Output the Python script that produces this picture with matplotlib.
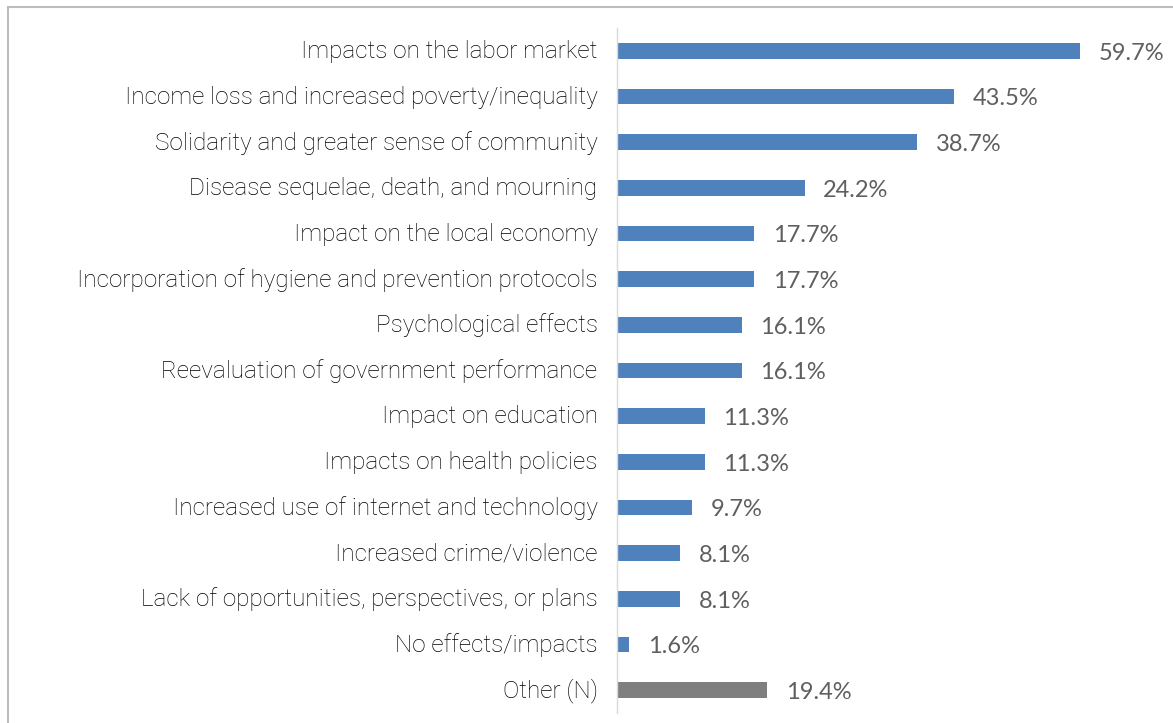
import matplotlib.pyplot as plt
from matplotlib.patches import Rectangle
from matplotlib.transforms import ScaledTranslation

categories = [
    "Impacts on the labor market",
    "Income loss and increased poverty/inequality",
    "Solidarity and greater sense of community",
    "Disease sequelae, death, and mourning",
    "Impact on the local economy",
    "Incorporation of hygiene and prevention protocols",
    "Psychological effects",
    "Reevaluation of government performance",
    "Impact on education",
    "Impacts on health policies",
    "Increased use of internet and technology",
    "Increased crime/violence",
    "Lack of opportunities, perspectives, or plans",
    "No effects/impacts",
    "Other (N)",
]
values = [59.7, 43.5, 38.7, 24.2, 17.7, 17.7, 16.1, 16.1, 11.3, 11.3, 9.7, 8.1, 8.1, 1.6, 19.4]
colors = ["#4F81BD"] * 14 + ["#7F7F7F"]

W, H = 1173, 723
fig = plt.figure(figsize=(W / 100, H / 100), dpi=100)
ax = fig.add_axes([617 / W, 1 - 713 / H, (1160 - 617) / W, (713 - 28) / H])

y = list(range(len(categories)))
ax.barh(y, values, height=0.35, color=colors)
ax.set_ylim(len(categories) - 0.5, -0.5)
ax.set_xlim(0, 70)

for yi, v in zip(y, values):
    ax.text(v + 2.4, yi + 0.05, f"{v:.1f}%", va="center", ha="left",
            fontsize=17, color="#5f5f5f", family="Lato")

ax.set_yticks(y)
ax.set_yticklabels(categories, fontsize=17.5, family="Roboto", fontweight="light",
                   color="#000000")
ax.tick_params(axis="y", length=0, pad=14)
# nudge category labels up a little
shift = ScaledTranslation(0, 2 / 100, fig.dpi_scale_trans)
for lbl in ax.get_yticklabels():
    lbl.set_transform(lbl.get_transform() + shift)
ax.set_xticks([])
for s in ["top", "right", "bottom"]:
    ax.spines[s].set_visible(False)
ax.spines["left"].set_color("#D9D9D9")
ax.spines["left"].set_linewidth(1)

# outer frame, open at right and bottom
fig.patches.append(Rectangle((7.5 / W, -0.1), 1.2, 1 - 7.5 / H + 0.1,
                             transform=fig.transFigure, fill=False,
                             edgecolor="#BDBDBD", lw=1.5))

fig.savefig("out.png", dpi=100)
